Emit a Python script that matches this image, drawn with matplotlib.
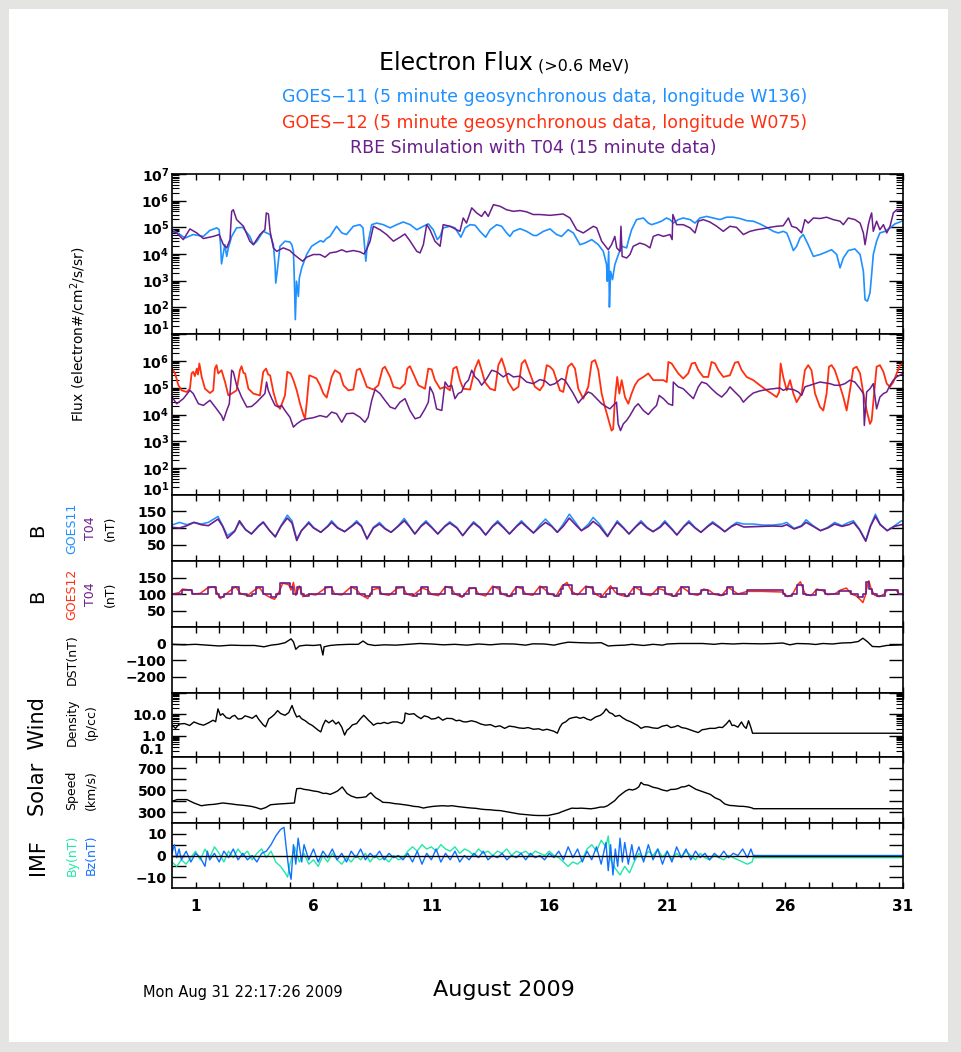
import numpy as np
import matplotlib.pyplot as plt
from matplotlib.patches import Rectangle
from matplotlib.ticker import FixedLocator, FixedFormatter, LogLocator, NullFormatter

# ---- data (day of month, value); flux values are log10 ----
goes11_flux = [(0.00,4.91),(0.34,4.73),(0.55,4.60),(0.90,4.73),(1.33,4.66),(1.60,4.88),(1.90,4.98),(2.00,4.91),
    (2.06,4.35),(2.10,3.63),(2.17,3.98),(2.24,4.35),(2.32,3.91),(2.39,4.23),(2.53,4.66),(2.74,4.98),(3.00,5.00),
    (3.30,4.66),(3.45,4.35),(3.60,4.48),(3.87,4.85),(4.16,4.73),(4.30,4.35),(4.37,3.60),(4.40,2.91),(4.47,3.41),
    (4.58,4.29),(4.79,4.48),(5.00,4.45),(5.08,4.35),(5.15,4.10),(5.19,2.98),(5.23,1.54),(5.28,2.98),(5.36,2.41),
    (5.40,3.10),(5.50,3.48),(5.71,3.98),(5.92,4.29),(6.13,4.41),(6.30,4.50),(6.42,4.45),(6.55,4.58),(6.70,4.66),
    (6.84,4.85),(6.98,5.04),(7.20,4.79),(7.40,4.73),(7.69,5.04),(7.97,5.10),(8.10,4.98),(8.18,4.16),(8.22,3.73),
    (8.27,4.23),(8.47,5.10),(8.68,5.16),(8.96,5.10),(9.25,4.98),(9.53,5.10),(9.81,5.20),(10.10,5.10),(10.38,4.91),
    (10.66,5.04),(10.87,5.13),(11.08,4.91),(11.25,4.54),(11.37,4.66),(11.50,4.98),(11.79,5.04),(12.00,4.98),
    (12.25,4.63),(12.43,4.98),(12.64,5.10),(12.85,5.08),(13.06,4.85),(13.30,4.63),(13.49,4.91),(13.77,5.10),
    (13.98,5.04),(14.19,4.79),(14.33,4.66),(14.48,4.85),(14.76,4.95),(15.04,4.85),(15.32,4.70),(15.46,4.69),
    (15.75,4.85),(16.03,4.94),(16.31,4.73),(16.52,4.66),(16.80,4.91),(17.02,4.79),(17.30,4.35),(17.51,4.41),
    (17.80,4.54),(18.08,4.35),(18.29,4.10),(18.43,3.60),(18.46,2.98),(18.52,4.10),(18.55,2.01),(18.60,3.35),
    (18.68,3.04),(18.78,3.60),(18.93,3.98),(19.07,4.29),(19.28,4.23),(19.35,4.48),(19.49,4.91),(19.70,5.29),
    (19.99,5.35),(20.20,5.16),(20.34,5.10),(20.55,5.16),(20.76,5.23),(20.97,5.35),(21.12,5.29),(21.26,5.16),
    (21.47,5.29),(21.68,5.35),(21.97,5.29),(22.18,5.16),(22.39,5.35),(22.67,5.41),(22.95,5.35),(23.24,5.29),
    (23.52,5.38),(23.80,5.38),(24.09,5.33),(24.37,5.25),(24.65,5.23),(24.93,5.13),(25.22,5.00),(25.50,4.85),
    (25.71,4.79),(25.92,4.85),(26.07,4.79),(26.21,4.48),(26.35,4.13),(26.49,4.29),(26.63,4.60),(26.77,4.73),
    (26.98,4.35),(27.20,3.91),(27.48,3.98),(27.76,4.08),(27.97,4.16),(28.19,3.98),(28.33,3.48),(28.47,3.85),
    (28.68,4.13),(28.96,4.19),(29.18,3.98),(29.32,3.35),(29.39,2.29),(29.49,2.23),(29.60,2.54),(29.67,3.23),
    (29.74,3.98),(29.88,4.48),(30.02,4.79),(30.24,4.85),(30.45,4.98),(30.66,5.13),(30.87,5.20),(31.00,5.25)]

rbe_flux_g11 = [(0.00,4.85),(0.20,4.79),(0.48,4.54),(0.76,4.94),(1.05,4.79),(1.33,4.58),(1.75,4.66),(2.00,4.73),
    (2.18,4.35),(2.32,4.23),(2.46,4.54),(2.53,5.60),(2.60,5.66),(2.74,5.29),(3.03,5.04),(3.30,4.48),(3.45,4.35),
    (3.73,4.73),(3.94,4.91),(4.00,5.54),(4.09,5.50),(4.16,4.85),(4.30,4.23),(4.44,4.10),(4.72,4.23),(5.00,4.13),
    (5.15,4.00),(5.36,3.85),(5.54,3.73),(5.71,3.88),(5.99,3.98),(6.28,3.98),(6.49,3.88),(6.70,4.04),(6.98,4.08),
    (7.20,4.16),(7.40,4.08),(7.69,4.13),(7.97,4.08),(8.14,4.00),(8.25,4.16),(8.40,4.48),(8.54,5.04),(8.82,4.91),
    (9.10,4.73),(9.39,4.48),(9.67,4.63),(9.88,4.75),(10.10,4.48),(10.38,4.10),(10.52,4.04),(10.66,4.35),
    (10.80,5.10),(10.94,4.91),(11.15,4.48),(11.37,4.29),(11.50,5.10),(11.79,5.04),(12.07,4.91),(12.21,4.85),
    (12.35,5.35),(12.49,5.16),(12.71,5.73),(12.92,5.54),(13.13,5.41),(13.27,5.60),(13.41,5.41),(13.63,5.85),
    (13.91,5.79),(14.19,5.66),(14.48,5.60),(14.76,5.63),(15.04,5.58),(15.32,5.48),(15.60,5.48),(16.03,5.45),
    (16.59,5.50),(16.88,5.35),(17.16,4.91),(17.44,4.79),(17.87,5.04),(18.01,4.98),(18.22,4.48),(18.50,4.16),
    (18.64,4.35),(18.78,4.66),(18.86,4.23),(19.00,4.10),(19.04,5.04),(19.09,3.91),(19.28,3.85),(19.42,3.98),
    (19.56,4.29),(19.84,4.41),(20.06,4.35),(20.27,4.23),(20.41,4.66),(20.62,4.73),(20.84,4.66),(21.12,4.73),
    (21.21,4.54),(21.24,5.48),(21.40,5.10),(21.68,5.10),(21.97,4.98),(22.18,4.79),(22.32,5.23),(22.53,5.29),
    (22.81,5.20),(23.10,5.04),(23.38,4.85),(23.66,5.04),(23.94,5.00),(24.23,4.73),(24.51,4.85),(24.79,4.91),
    (25.08,4.95),(25.36,5.00),(25.64,5.04),(25.92,5.06),(26.14,5.35),(26.28,5.04),(26.49,4.98),(26.70,4.79),
    (26.84,5.29),(26.98,5.16),(27.20,5.35),(27.48,5.33),(27.76,5.38),(28.04,5.29),(28.33,5.23),(28.47,5.10),
    (28.68,5.35),(28.96,5.29),(29.18,5.16),(29.32,4.79),(29.39,4.35),(29.53,5.10),(29.60,5.35),(29.67,5.54),
    (29.74,4.85),(29.88,5.23),(30.02,4.91),(30.17,5.10),(30.31,4.79),(30.45,5.04),(30.59,5.54),(30.73,5.66),
    (31.00,5.63)]

goes12_flux = [(0.00,5.71),(0.13,5.53),(0.27,5.09),(0.41,4.90),(0.62,4.84),(0.76,4.96),(0.83,5.53),(0.90,5.59),
    (0.97,5.43),(1.05,5.71),(1.10,5.49),(1.16,5.90),(1.26,5.40),(1.40,4.96),(1.61,4.80),(1.75,4.90),(1.82,5.71),
    (1.89,5.84),(1.96,5.53),(2.10,5.65),(2.25,5.21),(2.39,4.71),(2.53,4.78),(2.74,4.90),(2.88,5.65),(2.95,5.80),
    (3.03,5.55),(3.10,5.53),(3.24,4.96),(3.45,4.78),(3.73,4.71),(3.87,5.59),(3.99,5.71),(4.08,5.49),(4.16,5.46),
    (4.30,4.84),(4.44,4.40),(4.58,4.21),(4.79,4.71),(4.89,5.59),(5.03,5.53),(5.15,5.28),(5.29,4.90),(5.43,4.40),
    (5.57,4.00),(5.64,3.84),(5.71,4.40),(5.82,5.46),(5.99,5.40),(6.13,5.34),(6.28,5.09),(6.42,4.78),(6.56,4.63),
    (6.77,5.40),(6.91,5.65),(7.12,5.53),(7.27,5.09),(7.48,4.90),(7.69,4.93),(7.83,5.65),(7.97,5.71),(8.11,5.40),
    (8.26,5.03),(8.54,4.93),(8.75,5.09),(8.93,5.71),(9.03,5.78),(9.25,5.40),(9.39,5.03),(9.67,4.96),(9.88,5.15),
    (9.98,5.71),(10.09,5.80),(10.23,5.53),(10.45,5.09),(10.73,4.96),(10.87,5.71),(11.01,5.68),(11.15,5.28),
    (11.37,4.96),(11.58,5.03),(11.79,4.90),(11.93,5.71),(12.07,5.78),(12.21,5.28),(12.35,4.96),(12.64,4.93),
    (12.85,5.71),(13.00,6.03),(13.13,5.65),(13.27,5.21),(13.49,4.96),(13.70,4.90),(13.84,5.84),(13.98,6.09),
    (14.12,5.71),(14.26,5.21),(14.48,4.90),(14.69,5.03),(14.83,5.90),(14.97,6.03),(15.18,5.53),(15.39,5.03),
    (15.60,4.90),(15.75,5.09),(15.89,5.84),(16.03,5.78),(16.17,5.65),(16.31,5.28),(16.45,4.90),(16.59,4.84),
    (16.80,5.78),(16.95,5.90),(17.09,5.71),(17.23,4.96),(17.44,4.59),(17.65,5.03),(17.80,5.96),(17.94,6.03),
    (18.08,5.65),(18.22,4.78),(18.36,4.28),(18.50,3.84),(18.64,3.40),(18.71,3.46),(18.78,4.53),(18.88,5.40),
    (18.97,4.78),(19.07,5.28),(19.21,4.65),(19.35,4.40),(19.49,4.78),(19.63,5.09),(19.77,5.28),(19.99,5.40),
    (20.20,5.53),(20.41,5.28),(20.62,5.28),(20.84,5.28),(20.98,5.21),(21.05,5.96),(21.19,5.90),(21.33,5.71),
    (21.47,5.53),(21.68,5.34),(21.89,5.53),(22.04,5.90),(22.18,5.93),(22.32,5.65),(22.53,5.40),(22.74,5.40),
    (22.88,5.96),(23.03,5.90),(23.17,5.65),(23.38,5.40),(23.66,5.46),(23.87,5.93),(24.01,5.96),(24.16,5.65),
    (24.37,5.40),(24.65,5.28),(24.93,5.09),(25.22,4.90),(25.43,4.78),(25.64,4.65),(25.75,4.84),(25.81,5.90),
    (25.92,5.40),(26.07,4.90),(26.21,5.28),(26.35,4.78),(26.49,4.46),(26.70,4.78),(26.84,5.65),(26.98,5.84),
    (27.12,5.65),(27.27,4.78),(27.48,4.28),(27.62,4.15),(27.76,4.78),(27.86,5.78),(27.97,5.84),(28.11,5.65),
    (28.25,5.28),(28.47,4.65),(28.61,4.15),(28.75,4.90),(28.89,5.71),(29.03,5.78),(29.18,5.53),(29.32,4.78),
    (29.46,4.15),(29.60,3.65),(29.67,3.78),(29.74,4.46),(29.88,5.78),(30.02,5.84),(30.17,5.59),(30.31,5.15),
    (30.45,5.03),(30.59,5.21),(30.73,5.53),(30.87,5.84),(31.00,5.90)]

rbe_flux_g12 = [(0.00,4.65),(0.20,4.40),(0.48,4.59),(0.76,4.90),(0.90,4.78),(1.12,4.40),(1.33,4.34),(1.61,4.53),
    (1.89,4.21),(2.10,3.96),(2.18,3.78),(2.32,4.15),(2.43,4.40),(2.53,5.65),(2.60,5.59),(2.74,5.09),(2.95,4.65),
    (3.17,4.28),(3.38,4.30),(3.59,4.46),(3.80,4.65),(3.94,4.78),(4.01,5.21),(4.08,4.90),(4.23,4.59),(4.37,4.34),
    (4.51,4.28),(4.65,4.34),(4.79,4.15),(5.00,3.90),(5.15,3.53),(5.29,3.65),(5.50,3.78),(5.71,3.84),(5.99,3.88),
    (6.28,3.96),(6.56,3.90),(6.77,4.09),(6.98,4.03),(7.20,3.71),(7.40,4.03),(7.69,4.05),(7.97,3.90),(8.18,3.71),
    (8.32,3.90),(8.47,4.53),(8.61,4.93),(8.82,4.78),(9.03,4.53),(9.25,4.28),(9.46,4.21),(9.67,4.46),(9.88,4.59),
    (10.09,4.15),(10.31,3.84),(10.52,3.90),(10.73,4.21),(10.87,4.46),(10.94,5.03),(11.08,4.78),(11.22,4.21),
    (11.44,4.15),(11.58,5.21),(11.72,5.03),(11.86,5.09),(12.00,4.59),(12.14,4.78),(12.28,4.84),(12.43,5.15),
    (12.57,5.28),(12.71,5.65),(12.85,5.40),(13.00,5.28),(13.13,5.09),(13.35,5.34),(13.56,5.65),(13.77,5.59),
    (14.05,5.40),(14.26,5.53),(14.48,5.40),(14.76,5.43),(15.04,5.21),(15.32,5.15),(15.60,5.30),(15.82,5.25),
    (16.03,5.09),(16.24,5.15),(16.52,5.34),(16.66,5.28),(16.80,5.09),(17.02,4.78),(17.23,4.43),(17.44,4.65),
    (17.65,4.84),(17.80,4.78),(18.01,4.59),(18.22,4.40),(18.43,4.28),(18.57,4.21),(18.71,4.34),(18.85,4.46),
    (18.92,3.65),(19.02,3.40),(19.14,3.65),(19.28,3.78),(19.42,3.96),(19.63,4.28),(19.77,4.40),(19.99,4.15),
    (20.20,4.00),(20.34,4.15),(20.55,4.34),(20.66,4.71),(20.84,4.59),(21.05,4.40),(21.23,4.34),(21.26,5.21),
    (21.47,5.03),(21.68,4.96),(21.89,4.78),(22.11,4.59),(22.32,5.03),(22.46,5.21),(22.67,5.15),(22.88,4.96),
    (23.10,4.78),(23.31,4.65),(23.52,4.84),(23.66,5.03),(23.87,4.84),(24.09,4.65),(24.23,4.46),(24.44,4.65),
    (24.65,4.80),(24.93,4.88),(25.22,4.93),(25.50,4.96),(25.78,4.99),(25.92,4.90),(26.07,4.96),(26.35,4.93),
    (26.56,4.84),(26.70,4.71),(26.84,5.03),(27.06,5.09),(27.27,5.15),(27.48,5.21),(27.69,5.18),(27.90,5.15),
    (28.11,5.09),(28.33,5.09),(28.54,5.15),(28.75,5.28),(28.96,5.21),(29.18,4.96),(29.32,4.78),(29.36,3.59),
    (29.46,4.84),(29.60,4.96),(29.74,5.15),(29.88,4.21),(30.02,4.65),(30.17,4.78),(30.31,4.84),(30.45,5.09),
    (30.59,5.28),(30.73,5.40),(31.00,5.53)]

goes11_b = [(0.00,109),(0.32,117),(0.63,110),(0.93,117),(1.24,112),(1.54,117),(1.95,135),(2.15,107),(2.35,77),
    (2.66,92),(2.86,117),(3.12,95),(3.37,82),(3.67,107),(3.87,119),(4.14,92),(4.38,72),(4.62,107),(4.89,139),
    (5.09,122),(5.29,67),(5.49,92),(5.80,119),(6.00,102),(6.31,87),(6.61,107),(6.77,122),(7.02,102),(7.32,89),
    (7.62,107),(7.83,122),(8.03,107),(8.27,67),(8.54,102),(8.80,117),(9.04,99),(9.29,87),(9.59,107),(9.85,129),
    (10.06,107),(10.30,82),(10.56,107),(10.77,122),(11.03,102),(11.27,82),(11.58,107),(11.78,119),(12.08,102),
    (12.33,77),(12.59,102),(12.79,119),(13.06,102),(13.30,79),(13.60,107),(13.81,122),(14.07,102),(14.31,82),
    (14.62,107),(14.82,122),(15.09,102),(15.33,85),(15.63,112),(15.84,127),(16.10,107),(16.34,87),(16.59,112),
    (16.85,142),(17.11,117),(17.36,92),(17.66,112),(17.86,132),(18.13,112),(18.47,77),(18.67,97),(18.88,122),
    (19.14,102),(19.38,82),(19.69,107),(19.89,122),(20.15,102),(20.40,89),(20.70,105),(20.90,122),(21.21,97),
    (21.41,79),(21.72,107),(21.92,122),(22.18,102),(22.43,87),(22.73,107),(22.93,119),(23.24,102),(23.44,89),
    (23.74,107),(23.95,117),(24.25,112),(24.66,112),(25.06,109),(25.47,109),(25.87,112),(26.07,117),(26.38,99),
    (26.69,107),(26.89,125),(27.19,107),(27.50,92),(27.81,102),(28.10,117),(28.41,107),(28.70,117),(28.90,122),
    (29.15,97),(29.42,62),(29.62,107),(29.83,142),(30.03,112),(30.33,92),(30.64,107),(30.94,122),(31.00,120)]

t04_b_g11 = [(0.00,102),(0.32,100),(0.63,107),(0.93,117),(1.24,110),(1.54,107),(1.95,127),(2.15,105),(2.35,69),
    (2.66,90),(2.86,122),(3.12,95),(3.37,82),(3.67,105),(3.87,117),(4.14,92),(4.38,74),(4.62,105),(4.89,130),
    (5.09,115),(5.29,62),(5.49,92),(5.80,115),(6.00,100),(6.31,87),(6.61,105),(6.77,117),(7.02,100),(7.32,89),
    (7.62,105),(7.83,117),(8.03,105),(8.27,67),(8.54,100),(8.80,112),(9.04,97),(9.29,87),(9.59,105),(9.85,122),
    (10.06,105),(10.30,82),(10.56,105),(10.77,117),(11.03,100),(11.27,82),(11.58,105),(11.78,115),(12.08,100),
    (12.33,77),(12.59,100),(12.79,115),(13.06,100),(13.30,79),(13.60,105),(13.81,117),(14.07,100),(14.31,82),
    (14.62,105),(14.82,117),(15.09,100),(15.33,85),(15.63,105),(15.84,117),(16.10,105),(16.34,87),(16.59,105),
    (16.85,130),(17.11,110),(17.36,92),(17.66,105),(17.86,120),(18.13,105),(18.47,74),(18.67,97),(18.88,117),
    (19.14,100),(19.38,82),(19.69,105),(19.89,117),(20.15,100),(20.40,89),(20.70,102),(20.90,117),(21.21,95),
    (21.41,79),(21.72,105),(21.92,117),(22.18,100),(22.43,87),(22.73,105),(22.93,115),(23.24,100),(23.44,89),
    (23.74,105),(23.95,112),(24.25,103),(24.66,104),(25.06,105),(25.47,106),(25.87,105),(26.07,110),(26.38,97),
    (26.69,105),(26.89,117),(27.19,105),(27.50,92),(27.81,100),(28.10,112),(28.41,105),(28.70,110),(28.90,117),
    (29.15,95),(29.42,60),(29.62,105),(29.83,135),(30.03,110),(30.33,92),(30.64,105),(30.94,110),(31.00,110)]

goes12_b = [(0.00,100),(0.30,104),(0.45,115),(0.80,112),(0.90,100),(1.20,102),(1.50,118),(1.80,122),(1.95,98),
    (2.05,86),(2.20,95),(2.50,112),(2.70,122),(2.90,102),(3.20,95),(3.50,112),(3.70,120),(3.90,100),(4.20,88),
    (4.35,84),(4.55,108),(4.70,133),(4.95,128),(5.05,112),(5.15,135),(5.25,96),(5.40,124),(5.55,92),(5.80,100),
    (6.10,97),(6.50,118),(6.75,121),(6.90,100),(7.20,97),(7.60,122),(7.85,112),(8.00,98),(8.30,86),(8.50,112),
    (8.75,118),(8.90,100),(9.20,96),(9.55,117),(9.80,120),(9.95,100),(10.20,94),(10.60,118),(10.85,112),
    (11.00,99),(11.30,95),(11.60,123),(11.85,117),(12.00,100),(12.30,90),(12.60,116),(12.85,118),(13.00,100),
    (13.30,94),(13.60,124),(13.85,115),(14.00,100),(14.30,92),(14.60,122),(14.85,116),(15.00,100),(15.30,96),
    (15.60,124),(15.85,112),(16.00,100),(16.30,95),(16.55,125),(16.75,135),(16.95,108),(17.20,97),(17.55,124),
    (17.80,118),(17.95,100),(18.20,90),(18.60,125),(18.80,105),(19.00,97),(19.30,92),(19.60,122),(19.85,112),
    (20.00,100),(20.30,95),(20.60,117),(20.85,112),(21.00,99),(21.30,93),(21.60,122),(21.85,110),(22.00,100),
    (22.30,96),(22.55,115),(22.80,110),(23.00,99),(23.30,95),(23.60,120),(23.80,110),(24.00,100),(24.40,108),
    (25.00,108),(25.90,106),(26.10,92),(26.30,98),(26.55,130),(26.65,137),(26.85,100),(27.10,95),(27.35,115),
    (27.60,110),(27.80,98),(28.10,100),(28.35,112),(28.60,118),(28.80,100),(29.00,95),(29.20,82),(29.30,74),
    (29.40,95),(29.50,130),(29.55,140),(29.65,115),(29.80,96),(30.00,92),(30.20,100),(30.35,112),(30.70,112),
    (30.85,100),(31.00,100)]

# T04 model field at GOES-12, hourly steps (start day, level)
t04_b_g12 = [(0.00,100),(0.43,113),(0.83,100),(1.54,122),(1.85,100),(2.00,92),(2.20,100),(2.55,120),(2.86,100),
    (3.20,95),(3.40,100),(3.57,120),(3.87,100),(4.20,92),(4.40,100),(4.58,132),(4.99,120),(5.15,100),(5.30,120),
    (5.45,100),(5.60,94),(5.80,100),(6.50,120),(6.80,100),(7.60,122),(7.85,100),(8.20,93),(8.40,100),(8.50,120),
    (8.80,100),(9.50,120),(9.85,100),(10.20,95),(10.40,100),(10.56,120),(10.87,100),(11.58,122),(11.88,100),
    (12.20,94),(12.40,100),(12.60,119),(12.90,100),(13.60,122),(13.90,100),(14.20,95),(14.40,100),(14.60,120),
    (14.90,100),(15.60,120),(15.90,100),(16.20,95),(16.40,100),(16.50,115),(16.60,128),(16.95,100),(17.56,122),
    (17.86,100),(18.20,92),(18.40,100),(18.57,119),(18.88,100),(19.20,95),(19.40,100),(19.59,120),(19.89,100),
    (20.60,120),(20.90,100),(21.20,95),(21.40,100),(21.60,120),(21.92,100),(22.45,113),(22.75,100),(23.20,96),
    (23.40,100),(23.55,120),(23.80,100),(24.40,112),(25.90,100),(26.00,94),(26.30,100),(26.50,128),(26.75,100),
    (26.90,96),(27.30,112),(27.70,100),(28.30,110),(28.80,100),(29.10,90),(29.30,100),(29.45,135),(29.55,115),
    (29.70,100),(29.90,95),(30.25,112),(30.80,100),(31.00,100)]

dst = [(0.0,-5),(0.5,-8),(1.0,-5),(1.5,-10),(2.0,-15),(2.5,-10),(3.0,-12),(3.5,-12),(3.9,-20),(4.2,-10),
    (4.5,-5),(4.8,5),(5.05,28),(5.15,10),(5.25,-35),(5.4,-15),(5.7,-10),(6.0,-12),(6.3,-8),(6.4,-70),(6.45,-20),
    (6.7,-12),(7.0,-8),(7.5,-5),(7.9,-5),(8.1,15),(8.3,-5),(8.6,-12),(9.0,-8),(9.5,-10),(10.0,-5),(10.5,0),
    (11.0,-3),(11.5,-8),(12.0,-5),(12.5,-10),(13.0,-3),(13.5,-8),(14.0,-2),(14.5,-3),(15.0,-10),(15.3,-2),
    (15.8,-3),(16.2,-10),(16.5,0),(16.8,8),(17.3,5),(17.8,3),(18.2,5),(18.5,-15),(18.8,-12),(19.2,-10),(19.5,-5),
    (20.0,-12),(20.4,-5),(20.8,-10),(21.0,-3),(21.5,0),(22.0,0),(22.5,0),(23.0,-5),(23.3,0),(23.8,-3),(24.2,0),
    (25.0,-2),(25.5,0),(25.9,3),(26.2,-8),(26.5,0),(27.0,-2),(27.3,-6),(27.6,0),(28.0,-3),(28.4,3),(28.8,5),
    (29.1,12),(29.3,32),(29.5,10),(29.7,-18),(30.0,-20),(30.3,-12),(30.6,-10),(31.0,-8)]

density = [(0.0,3.1),(0.15,2.2),(0.3,3.5),(0.53,3.7),(0.75,3.0),(0.93,4.4),(1.15,3.5),(1.34,3.1),(1.55,4.0),
    (1.74,5.3),(1.85,4.5),(1.95,18),(2.05,9),(2.15,10.7),(2.3,7),(2.45,6.3),(2.55,8),(2.66,9.0),(2.8,6),(2.96,6.3),
    (3.1,8.5),(3.26,7.5),(3.4,6.5),(3.57,9.0),(3.67,6),(3.77,4.4),(3.87,3.2),(3.97,2.6),(4.1,6),(4.22,7.5),(4.35,10),
    (4.48,15),(4.6,11),(4.79,9.0),(4.95,12),(5.09,26),(5.2,12),(5.29,7.5),(5.4,8.5),(5.49,6.3),(5.65,5),(5.8,3.7),
    (5.95,3.0),(6.1,2.2),(6.2,1.8),(6.31,1.5),(6.4,3),(6.51,5.3),(6.65,4),(6.81,5.3),(6.95,3.5),(7.06,4.4),(7.2,2.5),
    (7.32,1.07),(7.42,1.8),(7.52,2.2),(7.65,3.2),(7.83,3.7),(7.98,6),(8.13,9.0),(8.23,7),(8.33,5.3),(8.45,4),
    (8.54,3.1),(8.7,3.8),(8.84,3.7),(9.0,4.2),(9.14,3.7),(9.35,4.4),(9.55,4.4),(9.75,3.7),(9.85,5),(9.89,11.5),
    (10.05,10),(10.26,10.7),(10.4,8),(10.56,6.3),(10.7,8.5),(10.87,7.5),(11.0,6),(11.17,6.3),(11.3,7.5),(11.48,5.3),
    (11.65,6.5),(11.88,6.3),(12.05,5),(12.19,5.3),(12.35,4.5),(12.49,4.4),(12.7,5),(12.9,4.4),(13.1,3.5),(13.3,3.1),
    (13.5,3.3),(13.71,2.6),(13.9,2.9),(14.11,2.2),(14.3,2.8),(14.52,2.6),(14.72,2.3),(14.92,2.2),(15.1,2.4),
    (15.33,2.0),(15.55,2.1),(15.73,1.8),(15.9,2.0),(16.04,1.8),(16.2,1.6),(16.34,1.3),(16.45,2.5),(16.55,3.7),
    (16.7,4.5),(16.85,6.3),(17.0,7),(17.15,7.5),(17.3,6.5),(17.46,7.3),(17.6,6),(17.76,5.3),(17.96,7.5),(18.17,9.0),
    (18.3,12),(18.41,18),(18.55,12),(18.67,10.7),(18.8,8),(18.98,9.0),(19.1,7),(19.28,5.3),(19.45,4.5),(19.59,3.7),
    (19.75,3.0),(19.89,2.2),(20.05,2.6),(20.19,2.6),(20.4,2.3),(20.6,2.2),(20.8,2.8),(21.0,3.1),(21.15,2.4),
    (21.31,2.6),(21.45,3.0),(21.61,2.4),(21.8,2.2),(22.02,1.8),(22.15,1.6),(22.32,1.4),(22.48,1.9),(22.63,2.0),
    (22.8,2.2),(23.03,2.2),(23.2,2.5),(23.34,2.4),(23.5,3.5),(23.64,5.3),(23.75,3),(23.84,3.1),(24.0,2.5),
    (24.15,4.4),(24.25,2.8),(24.35,2.2),(24.45,5),(24.55,2.4),(24.62,1.3),(31.0,1.3)]

speed = [(0,397),(0.22,413),(0.63,413),(0.93,382),(1.24,357),(1.54,366),(1.8,370),(2.15,382),(2.45,375),
    (2.76,366),(3.06,360),(3.37,351),(3.57,340),(3.77,326),(3.97,340),(4.18,366),(4.48,372),(4.79,376),(5.0,378),
    (5.19,382),(5.25,470),(5.29,512),(5.45,515),(5.6,506),(5.8,500),(6.0,491),(6.2,485),(6.41,469),(6.55,470),
    (6.71,460),(6.9,478),(7.02,491),(7.12,510),(7.22,528),(7.3,505),(7.42,469),(7.6,445),(7.83,429),(8.03,432),
    (8.23,438),(8.33,460),(8.43,475),(8.54,450),(8.64,429),(8.8,410),(8.94,388),(9.2,385),(9.45,376),(9.65,372),
    (9.85,366),(10.05,360),(10.26,351),(10.45,348),(10.66,336),(10.87,345),(11.07,351),(11.3,355),(11.48,357),
    (11.7,354),(11.88,357),(12.1,350),(12.29,345),(12.5,340),(12.69,336),(12.9,333),(13.1,326),(13.3,322),
    (13.5,320),(13.71,315),(13.91,313),(14.11,306),(14.31,298),(14.52,290),(14.72,282),(14.92,278),(15.13,274),
    (15.33,270),(15.53,268),(15.74,268),(15.94,268),(16.1,275),(16.24,282),(16.4,290),(16.55,304),(16.75,320),
    (16.95,335),(17.15,333),(17.36,335),(17.56,332),(17.76,329),(17.96,335),(18.17,345),(18.32,345),(18.47,357),
    (18.62,380),(18.78,404),(18.93,440),(19.08,466),(19.23,490),(19.38,506),(19.53,500),(19.69,512),(19.8,530),
    (19.89,569),(20.0,550),(20.19,544),(20.4,525),(20.6,516),(20.8,500),(21.0,491),(21.15,505),(21.31,506),
    (21.45,512),(21.61,528),(21.75,530),(21.92,544),(22.05,528),(22.22,506),(22.43,490),(22.63,475),(22.83,460),
    (23.03,429),(23.24,410),(23.44,373),(23.64,360),(23.84,357),(24.05,352),(24.25,351),(24.45,345),(24.61,336),
    (24.65,330),(31.0,330)]

imf_by = [(0.0,-3),(0.2,-5),(0.4,-2),(0.6,-4),(0.8,-1),(1.0,2),(1.2,-2),(1.4,3),(1.6,-1),(1.8,4),(2.0,1),(2.2,-3),
    (2.4,2),(2.6,-1),(2.8,3),(3.0,0),(3.2,2),(3.4,-2),(3.6,1),(3.8,3),(4.0,-1),(4.2,2),(4.4,-3),(4.6,-5),(4.8,-8),
    (4.9,-10),(5.0,-4),(5.2,4),(5.4,-3),(5.6,1),(5.8,-4),(6.0,-2),(6.2,-5),(6.4,0),(6.6,-3),(6.8,1),(7.0,-2),
    (7.2,-4),(7.4,-1),(7.6,-3),(7.8,0),(8.0,-2),(8.2,1),(8.4,-3),(8.6,0),(8.8,-2),(9.0,-1),(9.2,-3),(9.4,0),(9.6,-2),
    (9.8,-1),(10.0,2),(10.2,4),(10.4,2),(10.6,5),(10.8,3),(11.0,4),(11.2,2),(11.4,5),(11.6,3),(11.8,2),(12.0,4),
    (12.2,1),(12.4,3),(12.6,2),(12.8,0),(13.0,3),(13.2,1),(13.4,2),(13.6,0),(13.8,2),(14.0,1),(14.2,3),(14.4,0),
    (14.6,2),(14.8,1),(15.0,2),(15.2,0),(15.4,2),(15.6,1),(15.8,0),(16.0,2),(16.2,0),(16.4,-1),(16.6,-3),(16.8,-5),
    (17.0,-3),(17.2,-4),(17.4,-2),(17.6,3),(17.8,5),(18.0,2),(18.2,7),(18.4,4),(18.5,9),(18.6,-2),(18.8,-6),
    (19.0,-9),(19.2,-5),(19.4,-8),(19.6,-3),(19.8,1),(20.0,-2),(20.2,2),(20.4,0),(20.6,3),(20.8,-1),(21.0,2),
    (21.2,-2),(21.4,1),(21.6,-1),(21.8,2),(22.0,0),(22.2,-2),(22.4,1),(22.6,-1),(22.8,-2),(23.0,0),(23.2,-1),
    (23.4,-2),(23.6,0),(23.8,-1),(24.0,-2),(24.2,-3),(24.4,-4),(24.6,-3),(24.65,-1),(31.0,-1)]

imf_bz = [(0.0,1),(0.1,5),(0.2,-1),(0.3,3),(0.4,-2),(0.6,2),(0.8,-3),(1.0,1),(1.2,-1),(1.4,-5),(1.5,2),(1.6,-2),
    (1.8,1),(2.0,-3),(2.2,2),(2.4,-1),(2.6,3),(2.8,-2),(3.0,1),(3.2,-2),(3.4,0),(3.6,-3),(3.8,1),(4.0,2),(4.2,5),
    (4.4,9),(4.6,12),(4.75,13),(4.85,3),(4.95,-6),(5.05,-11),(5.15,5),(5.25,-4),(5.35,8),(5.5,-3),(5.6,5),(5.8,-2),
    (6.0,3),(6.2,-3),(6.4,2),(6.6,-1),(6.8,3),(7.0,-2),(7.2,1),(7.4,-3),(7.6,2),(7.8,-1),(8.0,3),(8.2,-2),(8.4,1),
    (8.6,-1),(8.8,2),(9.0,-2),(9.2,1),(9.4,-1),(9.6,0),(9.8,-2),(10.0,1),(10.2,-3),(10.4,2),(10.6,-4),(10.8,1),
    (11.0,-2),(11.2,3),(11.4,-3),(11.6,1),(11.8,-2),(12.0,2),(12.2,-3),(12.4,0),(12.6,-2),(12.8,1),(13.0,-1),
    (13.2,2),(13.4,-2),(13.6,0),(13.8,-1),(14.0,1),(14.2,-2),(14.4,0),(14.6,-1),(14.8,1),(15.0,-2),(15.2,1),
    (15.4,-1),(15.6,0),(15.8,-2),(16.0,1),(16.2,-1),(16.4,2),(16.6,-2),(16.8,4),(17.0,-1),(17.2,3),(17.4,-3),
    (17.6,2),(17.8,-2),(18.0,4),(18.2,-4),(18.4,6),(18.5,-7),(18.6,5),(18.7,-9),(18.8,3),(18.9,-5),(19.0,8),
    (19.1,-3),(19.2,6),(19.35,-4),(19.5,5),(19.6,-2),(19.8,4),(20.0,-3),(20.2,5),(20.4,-2),(20.6,3),(20.8,-4),
    (21.0,2),(21.2,-3),(21.4,4),(21.6,-1),(21.8,3),(22.0,-2),(22.2,2),(22.4,-1),(22.6,1),(22.8,-2),(23.0,1),
    (23.2,-1),(23.4,2),(23.6,-1),(23.8,1),(24.0,0),(24.2,3),(24.4,-1),(24.55,3),(24.65,0),(31.0,0)]

day_labels = ['1', '6', '11', '16', '21', '26', '31']

BLUE = '#1e90ff'
RED = '#ff3010'
PURPLE = '#6a1e8c'
BY_GREEN = '#20e8a8'
BZ_BLUE = '#1070ff'

W, H = 962, 1052
PL, PR = 172, 903
# panel edges in pixels from the top
edges = [174, 334, 495, 561, 627, 693, 757, 823, 888]
LABEL_SIZE = 10


def xy(series):
    arr = np.array(series, dtype=float)
    return arr[:, 0], arr[:, 1]


def bottom_label(ax, y, text, dx=-6, dy=0):
    # lowest tick label sits just above the frame, as on the panel stack
    ax.annotate(text, xy=(0, y), xycoords=('axes fraction', 'data'), xytext=(dx, dy),
                textcoords='offset points', ha='right', va='bottom', fontsize=LABEL_SIZE,
                fontweight='bold')


fig = plt.figure(figsize=(W / 100, H / 100), dpi=100)
fig.patch.set_facecolor('#e4e4e2')
fig.patches.append(Rectangle((9 / W, 10 / H), 939 / W, 1033 / H, transform=fig.transFigure,
                             facecolor='white', edgecolor='none', zorder=-5))

axes = []
for i in range(8):
    top, bot = edges[i], edges[i + 1]
    ax = fig.add_axes([PL / W, 1 - bot / H, (PR - PL) / W, (bot - top) / H])
    ax.set_xlim(0, 31)
    ax.xaxis.set_major_locator(FixedLocator(range(1, 32)))
    ax.tick_params(axis='x', which='major', direction='in', top=True, bottom=True, length=4, width=1)
    ax.tick_params(axis='y', which='major', direction='in', left=True, right=True, length=10, width=1,
                   labelsize=LABEL_SIZE, pad=4)
    ax.tick_params(axis='y', which='minor', direction='in', left=True, right=True, length=5, width=0.8)
    for s in ax.spines.values():
        s.set_linewidth(1.2)
    if i < 7:
        ax.set_xticklabels([])
    else:
        ax.set_xticklabels([str(d) if str(d) in day_labels else '' for d in range(1, 32)])
        ax.tick_params(axis='x', pad=8, labelsize=11)
    axes.append(ax)

# flux panels
for k, (sat, rbe, col) in enumerate([(goes11_flux, rbe_flux_g11, BLUE), (goes12_flux, rbe_flux_g12, RED)]):
    ax = axes[k]
    d, v = xy(sat)
    ax.plot(d, 10 ** v, color=col, lw=1.3 if k else 1.2)
    d, v = xy(rbe)
    ax.plot(d, 10 ** v, color=PURPLE, lw=1.1)
    ax.set_yscale('log')
    ax.set_ylim(10, 1e7)
    ax.yaxis.set_major_locator(FixedLocator([10 ** n for n in range(1, 8)]))
    top_n = 7 if k == 0 else 6
    ax.yaxis.set_major_formatter(FixedFormatter(
        ['$\\mathbf{10^{%d}}$' % n if 1 < n <= top_n else '' for n in range(1, 8)]))
    ax.yaxis.set_minor_locator(LogLocator(base=10, subs=np.arange(2, 10), numticks=20))
    ax.yaxis.set_minor_formatter(NullFormatter())
    ax.tick_params(axis='y', pad=2)
    bottom_label(ax, 10, '$\\mathbf{10^{1}}$', dx=-2, dy=-3)

# magnetic field panels
for k, (sat, mod, col) in enumerate([(goes11_b, t04_b_g11, BLUE), (goes12_b, t04_b_g12, RED)]):
    ax = axes[2 + k]
    d, v = xy(sat)
    ax.plot(d, v, color=col, lw=1.1)
    d, v = xy(mod)
    ax.plot(d, v, color=PURPLE, lw=1.2, drawstyle='steps-post' if k == 1 else 'default')
    ax.set_ylim(0, 200)
    ax.set_yticks([50, 100, 150])
    ax.set_yticklabels(['50', '100', '150'])

# Dst
ax = axes[4]
d, v = xy(dst)
ax.plot(d, v, color='black', lw=1.0)
ax.set_ylim(-300, 100)
ax.set_yticks([-200, -100, 0])
ax.set_yticklabels(['\u2212200', '\u2212100', '0'])

# solar wind density
ax = axes[5]
d, v = xy(density)
ax.plot(d, v, color='black', lw=1.0)
ax.set_yscale('log')
ax.set_ylim(0.1, 100)
ax.yaxis.set_major_locator(FixedLocator([0.1, 1, 10, 100]))
ax.yaxis.set_major_formatter(FixedFormatter(['', '1.0', '10.0', '']))
ax.yaxis.set_minor_locator(LogLocator(base=10, subs=np.arange(2, 10), numticks=20))
ax.yaxis.set_minor_formatter(NullFormatter())
bottom_label(ax, 0.1, '0.1')

# solar wind speed
ax = axes[6]
d, v = xy(speed)
ax.plot(d, v, color='black', lw=1.0)
ax.set_ylim(200, 800)
ax.set_yticks([300, 400, 500, 600, 700])
ax.set_yticklabels(['300', '', '500', '', '700'])

# IMF
ax = axes[7]
d, v = xy(imf_by)
ax.plot(d, v, color=BY_GREEN, lw=1.0)
d, v = xy(imf_bz)
ax.plot(d, v, color=BZ_BLUE, lw=1.0)
ax.axhline(0, color='black', lw=1.0)
ax.set_ylim(-15, 15)
ax.set_yticks([-10, -5, 0, 5, 10])
ax.set_yticklabels(['\u221210', '', '0', '', '10'])

for ax in axes:
    for lab in ax.get_yticklabels() + ax.get_xticklabels():
        lab.set_fontweight('bold')


def ftext(x, y, s, **kw):
    fig.text(x / W, 1 - y / H, s, **kw)


# titles
ftext(533, 63, 'Electron Flux', ha='right', va='center', fontsize=17)
ftext(538, 66, '(>0.6 MeV)', ha='left', va='center', fontsize=11.5)
ftext(545, 97, 'GOES\u221211 (5 minute geosynchronous data, longitude W136)', ha='center', va='center',
      fontsize=12.5, color=BLUE)
ftext(545, 123, 'GOES\u221212 (5 minute geosynchronous data, longitude W075)', ha='center', va='center',
      fontsize=12.5, color=RED)
ftext(533, 148, 'RBE Simulation with T04 (15 minute data)', ha='center', va='center',
      fontsize=12.5, color=PURPLE)

# axis labels on the left
rot = dict(rotation=90, ha='center', va='center')
ftext(78, 334, 'Flux (electron#/cm$^2$/s/sr)', fontsize=10, **rot)
ftext(38, 530, 'B', fontsize=14, **rot)
ftext(72, 528, 'GOES11', fontsize=9, color=BLUE, **rot)
ftext(91, 528, 'T04', fontsize=9, color=PURPLE, **rot)
ftext(110, 528, '(nT)', fontsize=9, **rot)
ftext(38, 596, 'B', fontsize=14, **rot)
ftext(72, 594, 'GOES12', fontsize=9, color=RED, **rot)
ftext(91, 594, 'T04', fontsize=9, color=PURPLE, **rot)
ftext(110, 594, '(nT)', fontsize=9, **rot)
ftext(72, 660, 'DST(nT)', fontsize=9, **rot)
ftext(38, 757, 'Solar  Wind', fontsize=15, **rot)
ftext(72, 722, 'Density', fontsize=9, **rot)
ftext(91, 722, '(p/cc)', fontsize=9, **rot)
ftext(72, 790, 'Speed', fontsize=9, **rot)
ftext(91, 790, '(km/s)', fontsize=9, **rot)
ftext(38, 857, 'IMF', fontsize=15, **rot)
ftext(72, 855, 'By(nT)', fontsize=9, color=BY_GREEN, **rot)
ftext(91, 855, 'Bz(nT)', fontsize=9, color=BZ_BLUE, **rot)

# footer
ftext(143, 992, 'Mon Aug 31 22:17:26 2009', ha='left', va='center', fontsize=10.5)
ftext(504, 990, 'August 2009', ha='center', va='center', fontsize=16)

fig.savefig('out.png', dpi=100, facecolor=fig.get_facecolor())
